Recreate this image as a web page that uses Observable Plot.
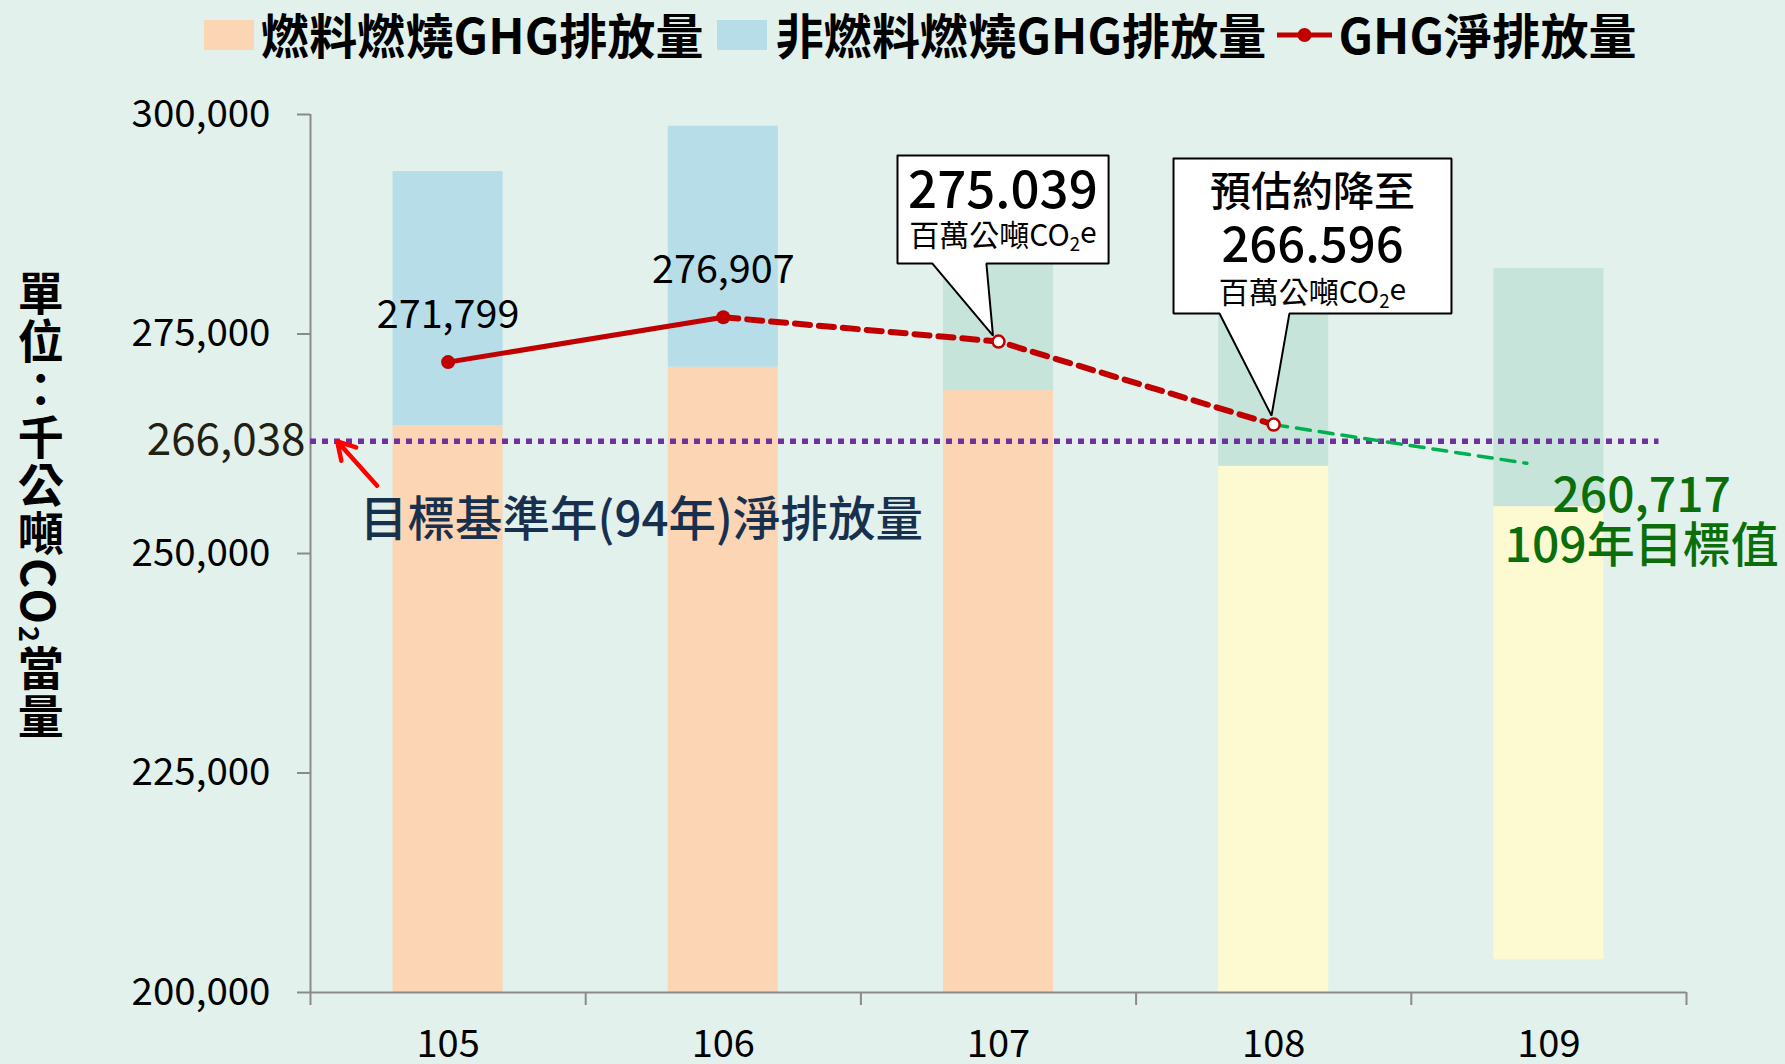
<!DOCTYPE html>
<html>
<head>
<meta charset="utf-8">
<script src="https://cdn.jsdelivr.net/npm/d3@7"></script>
<script src="https://cdn.jsdelivr.net/npm/@observablehq/plot@0.6"></script>
<style>
  body { margin: 0; background: #e2f1ec; }
  #wrap { position: relative; width: 1785px; height: 1064px; background: #e2f1ec;
          font-family: "Noto Sans CJK TC", "Noto Sans", sans-serif; overflow: hidden; }
  #legend { position: relative; height: 70px; }
  #legendRow { position: absolute; left: 204px; top: 0px; height: 66px; display: flex; align-items: center;
               font-weight: bold; font-size: 48px; line-height: 1.1; letter-spacing: 0.15px; color: #000; white-space: nowrap; }
  .sw { width: 50px; height: 30px; flex: none; position: relative; top: 2px; }
  #ytitle { position: absolute; left: 16px; top: 270px; writing-mode: vertical-rl; font-weight: bold;
            font-size: 46px; line-height: 1; letter-spacing: 2px; color: #000; }
  #ytitle sub { font-size: 0.6em; }
</style>
</head>
<body>
<div id="wrap">
  <div id="legend"><div id="legendRow"></div></div>
  <div id="chart"></div>
  <div id="ytitle"></div>
</div>
<script>
// ---------- data ----------
const years = [105, 106, 107, 108, 109];
const lowerBase = [200000, 200000, 200000, 200000, 203728];
const lowerTop  = [264566, 271221, 268554, 259930, 255338];
const upperTop  = [293500, 298670, 287000, 285000, 282454];
const lowerKind = ["fuel", "fuel", "fuel", "estFuel", "estFuel"];
const upperKind = ["nonFuel", "nonFuel", "estTotal", "estTotal", "estTotal"];
const kinds = ["fuel", "nonFuel", "estTotal", "estFuel"];
const kindColors = ["#fcd5b5", "#b7dde8", "#c6e4da", "#fdf9d0"];

const netYears = [105, 106, 107, 108];
const netValues = [271799, 276907, 274140, 264680];   // as drawn
const netLabels = ["271,799", "276,907"];

const baseYearValue = 262780;       // drawn position of the 94-year reference line
const baseYearLabel = "266,038";
const baseYearText = "目標基準年(94年)淨排放量";
const baseTextAnchor = {x: 104.68, y: 253743};
const arrowFrom = {x: 104.742, y: 257730};
const arrowTo = {x: 104.597, y: 262780};
const refLineEnd = 109.4;

const targetYears = [108, 108.92];
const targetValues = [264680, 260270];
const targetText = "260,717\n109年目標值";
const targetTextAnchor = {x: 109.337, y: 253743};

const callout1X = [106.633, 107.400, 107.400, 106.956, 106.980, 106.760, 106.633, 106.633];
const callout1Y = [295329, 295329, 283024, 283024, 274820, 283024, 283024, 295329];
const callout2X = [107.636, 108.646, 108.646, 108.057, 107.992, 107.803, 107.636, 107.636];
const callout2Y = [294987, 294987, 277327, 277327, 265700, 277327, 277327, 294987];
const callout1Value = "275.039";
const callout2Head = "預估約降至";
const callout2Value = "266.596";
const unitText = "百萬公噸CO2e";
const c1 = {x: 107.016, yValue: 291227, yUnit: 286100};
const c2 = {x: 108.141, yHead: 291056, yValue: 285017, yUnit: 279606};

const xDomain = [104.5, 109.5];
const yDomain = [200000, 300000];
const boundaries = [104.5, 105.5, 106.5, 107.5, 108.5, 109.5];
const yTicks = [200000, 225000, 250000, 275000, 300000];

const legendItems = [
  {type: "swatch", color: "#fcd5b5", label: "燃料燃燒GHG排放量"},
  {type: "swatch", color: "#b7dde8", label: "非燃料燃燒GHG排放量"},
  {type: "line", color: "#c00000", label: "GHG淨排放量"}
];

// ---------- derived tables ----------
const barHalf = 0.2;
const segments = [];
years.forEach((yr, i) => {
  segments.push({year: yr, lo: lowerBase[i], hi: lowerTop[i], kind: lowerKind[i]});
  segments.push({year: yr, lo: lowerTop[i], hi: upperTop[i], kind: upperKind[i]});
});
const net = netYears.map((yr, i) => ({year: yr, value: netValues[i]}));
const netSolid = net.slice(0, 2);
const netDashed = net.slice(1);
const netActual = net.slice(0, 2).map((d, i) => ({...d, label: netLabels[i]}));
const netEst = net.slice(2);
const target = targetYears.map((yr, i) => ({year: yr, value: targetValues[i]}));
const callouts = [
  ...callout1X.map((x, i) => ({box: 1, x, y: callout1Y[i]})),
  ...callout2X.map((x, i) => ({box: 2, x, y: callout2Y[i]}))
];

const font = '"Noto Sans CJK TC", "Noto Sans", sans-serif';
const axisGray = "#8a8a8a";

const chart = Plot.plot({
  width: 1785,
  height: 994,
  marginTop: 44,
  marginBottom: 72,
  marginLeft: 310,
  marginRight: 99,
  style: {background: "transparent", fontFamily: font, overflow: "visible"},
  x: {domain: xDomain, axis: null},
  y: {domain: yDomain, axis: null},
  color: {domain: kinds, range: kindColors},
  marks: [
    Plot.rect(segments, {x1: d => d.year - barHalf, x2: d => d.year + barHalf, y1: "lo", y2: "hi", fill: "kind"}),
    Plot.ruleX([xDomain[0]], {y1: yDomain[0], y2: yDomain[1], stroke: axisGray, strokeWidth: 2}),
    Plot.ruleY([yDomain[0]], {x1: xDomain[0], x2: xDomain[1], stroke: axisGray, strokeWidth: 2}),
    Plot.axisY({ticks: yTicks, anchor: "left", tickSize: 13, tickPadding: 27, fontSize: 38.5,
      stroke: axisGray, strokeWidth: 2, fill: "#000", tickFormat: d3.format(","), label: null}),
    Plot.axisX({ticks: boundaries, anchor: "bottom", tickSize: 13, stroke: axisGray, strokeWidth: 2,
      tickFormat: () => "", label: null}),
    Plot.axisX({ticks: years, anchor: "bottom", tickSize: 0, tickPadding: 38, fontSize: 38,
      fill: "#000", tickFormat: d => String(d), label: null}),
    // 94-year reference
    Plot.ruleY([baseYearValue], {x1: xDomain[0], x2: refLineEnd, stroke: "#7030a0", strokeWidth: 5.5, strokeDasharray: "6 6"}),
    Plot.text([baseYearLabel], {x: xDomain[0], y: baseYearValue, text: d => d, textAnchor: "end", dx: -5,
      fontSize: 44, fill: "#221f14"}),
    Plot.arrow([arrowFrom], {x1: "x", y1: "y", x2: () => arrowTo.x, y2: () => arrowTo.y,
      stroke: "#ff0000", strokeWidth: 4.5, headLength: 9}),
    Plot.text([baseYearText], {x: baseTextAnchor.x, y: baseTextAnchor.y, text: d => d, textAnchor: "start",
      fontSize: 47.5, fontWeight: 500, fill: "#17304e"}),
    // target trend
    Plot.line(target, {x: "year", y: "value", stroke: "#00b050", strokeWidth: 3.5, strokeDasharray: "14 9"}),
    Plot.text([targetText], {x: targetTextAnchor.x, y: targetTextAnchor.y, text: d => d, textAnchor: "middle",
      fontSize: 48, lineHeight: 1.04, fontWeight: 500, fill: "#0a6e0a"}),
    // callouts
    Plot.line(callouts, {x: "x", y: "y", z: "box", fill: "white", stroke: "#000", strokeWidth: 2, strokeLinejoin: "miter", curve: "linear"}),
    Plot.text([callout1Value], {x: c1.x, y: c1.yValue, text: d => d, fontSize: 51, fontWeight: 500, fill: "#000"}),
    Plot.text([unitText], {x: c1.x, y: c1.yUnit, text: d => d, fontSize: 30, fill: "#000"}),
    Plot.text([callout2Head], {x: c2.x, y: c2.yHead, text: d => d, fontSize: 41, fontWeight: 500, fill: "#000"}),
    Plot.text([callout2Value], {x: c2.x, y: c2.yValue, text: d => d, fontSize: 49, fontWeight: 500, fill: "#000"}),
    Plot.text([unitText], {x: c2.x, y: c2.yUnit, text: d => d, fontSize: 30, fill: "#000"}),
    // net emission line
    Plot.line(netSolid, {x: "year", y: "value", stroke: "#c00000", strokeWidth: 5}),
    Plot.line(netDashed, {x: "year", y: "value", stroke: "#c00000", strokeWidth: 6, strokeDasharray: "15 9"}),
    Plot.dot(netActual, {x: "year", y: "value", r: 7, fill: "#c00000"}),
    Plot.dot(netEst, {x: "year", y: "value", r: 6, fill: "white", stroke: "#c00000", strokeWidth: 2.5}),
    Plot.text(netActual, {x: "year", y: "value", text: "label", lineAnchor: "bottom", dy: -34, fontSize: 39.5, fill: "#000"})
  ]
});

// subscript 2 in CO2e
chart.querySelectorAll("text").forEach(t => {
  if (t.textContent === unitText) {
    t.textContent = "";
    const ns = "http://www.w3.org/2000/svg";
    const a = document.createElementNS(ns, "tspan"); a.textContent = "百萬公噸CO";
    const b = document.createElementNS(ns, "tspan"); b.textContent = "2";
    b.setAttribute("font-size", "0.62em"); b.setAttribute("dy", "0.28em");
    const c = document.createElementNS(ns, "tspan"); c.textContent = "e";
    c.setAttribute("dy", "-0.28em");
    t.append(a, b, c);
  }
});
document.getElementById("chart").appendChild(chart);

// legend
const row = document.getElementById("legendRow");
legendItems.forEach((it, i) => {
  if (it.type === "swatch") {
    const s = document.createElement("div");
    s.className = "sw"; s.style.background = it.color;
    s.style.marginLeft = i === 0 ? "0px" : "13px";
    s.style.marginRight = i === 0 ? "7px" : "9px";
    row.appendChild(s);
  } else {
    const ic = document.createElementNS("http://www.w3.org/2000/svg", "svg");
    ic.setAttribute("width", "55"); ic.setAttribute("height", "20");
    ic.style.marginLeft = "10px"; ic.style.marginRight = "7px"; ic.style.flex = "none";
    ic.style.position = "relative"; ic.style.top = "2px";
    ic.innerHTML = `<line x1="0" y1="10" x2="55" y2="10" stroke="${it.color}" stroke-width="5"/><circle cx="27.5" cy="10" r="7" fill="${it.color}"/>`;
    row.appendChild(ic);
  }
  const l = document.createElement("span");
  l.textContent = it.label;
  row.appendChild(l);
});

document.getElementById("ytitle").innerHTML = "單位：千公噸CO<sub>2</sub>當量";
</script>
</body>
</html>
